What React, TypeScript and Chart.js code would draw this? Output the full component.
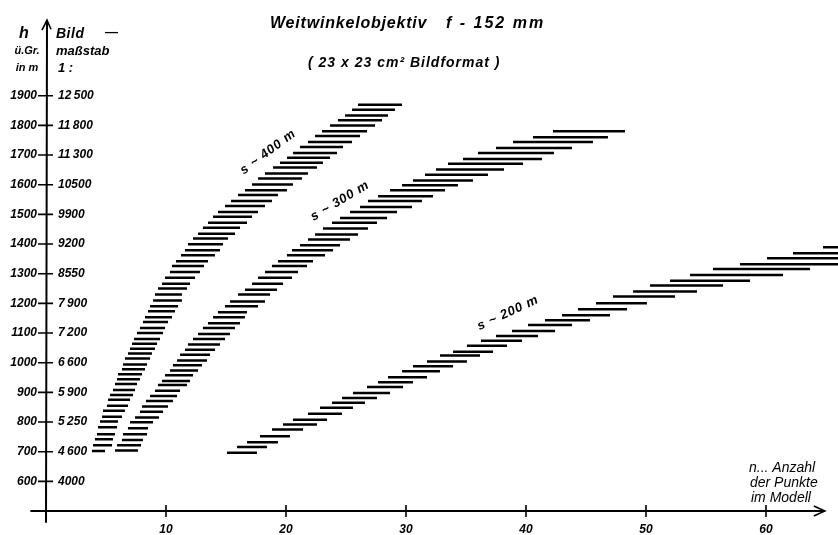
import React, { useEffect, useRef } from 'react';
import { Chart, registerables } from 'chart.js';

Chart.register(...registerables);

// ---- axis ticks ----
const hTicks = [600, 700, 800, 900, 1000, 1100, 1200, 1300, 1400, 1500, 1600, 1700, 1800, 1900];
const hTickLabels = ['600', '700', '800', '900', '1000', '1100', '1200', '1300', '1400', '1500', '1600', '1700', '1800', '1900'];
const scaleTickLabels = ['4000', '4\u2009600', '5\u2009250', '5\u2009900', '6\u2009600', '7\u2009200', '7\u2009900', '8550', '9200', '9900', '10500', '11\u2009300', '11\u2009800', '12\u2009500'];
const nTicks = [10, 20, 30, 40, 50, 60];
const nTickLabels = ['10', '20', '30', '40', '50', '60'];

// ---- band s ~ 400 m : flying height h and range of n for each dash ----
const band400H = [1870, 1853, 1833, 1817, 1800, 1780, 1764, 1744, 1727, 1707, 1691, 1674, 1658, 1638, 1621, 1601, 1581, 1565, 1545, 1528, 1508, 1492, 1472, 1455, 1435, 1419, 1399, 1379, 1362, 1342, 1326, 1306, 1286, 1266, 1250, 1230, 1210, 1190, 1173, 1153, 1137, 1117, 1100, 1080, 1064, 1047, 1031, 1014, 994, 978, 961, 944, 928, 908, 891, 875, 855, 838, 818, 802, 782, 759, 742, 722, 702];
const band400Start = [26.0, 25.5, 24.92, 24.33, 23.67, 23.0, 22.42, 21.83, 21.17, 20.58, 20.08, 19.5, 18.92, 18.25, 17.67, 17.17, 16.58, 16.0, 15.42, 14.92, 14.33, 13.92, 13.5, 13.08, 12.67, 12.25, 11.83, 11.58, 11.25, 10.83, 10.5, 10.33, 9.92, 9.67, 9.33, 9.08, 8.92, 8.67, 8.5, 8.25, 8.08, 7.83, 7.58, 7.33, 7.17, 7.0, 6.83, 6.58, 6.42, 6.33, 6.0, 5.92, 5.75, 5.58, 5.33, 5.17, 5.08, 4.75, 4.67, 4.5, 4.33, 4.25, 4.08, 3.92, 3.83];
const band400End = [29.67, 29.08, 28.5, 28.0, 27.42, 26.75, 26.17, 25.5, 24.75, 24.25, 23.67, 23.08, 22.58, 21.83, 21.33, 20.58, 20.08, 19.33, 18.83, 18.25, 17.67, 17.17, 16.75, 16.17, 15.75, 15.17, 14.75, 14.5, 14.08, 13.5, 13.17, 12.83, 12.42, 12.0, 11.75, 11.33, 11.33, 11.0, 10.75, 10.5, 10.17, 9.92, 9.75, 9.5, 9.25, 9.08, 8.83, 8.67, 8.42, 8.25, 8.0, 7.83, 7.58, 7.42, 7.25, 7.0, 6.83, 6.58, 6.33, 6.0, 5.92, 5.75, 5.58, 5.5, 4.92];

// ---- band s ~ 300 m ----
const band300H = [1780, 1760, 1744, 1724, 1707, 1687, 1671, 1651, 1634, 1614, 1598, 1581, 1561, 1545, 1525, 1508, 1488, 1472, 1452, 1432, 1415, 1396, 1379, 1362, 1342, 1326, 1306, 1286, 1266, 1246, 1230, 1206, 1190, 1170, 1153, 1133, 1117, 1097, 1080, 1061, 1044, 1027, 1007, 991, 974, 958, 938, 925, 905, 888, 871, 852, 835, 815, 799, 779, 759, 739, 722, 704];
const band300Start = [42.25, 40.58, 38.92, 37.5, 36.0, 34.75, 33.5, 32.5, 31.58, 30.58, 29.67, 28.67, 27.67, 26.83, 26.17, 25.33, 24.5, 23.83, 23.08, 22.42, 21.83, 21.17, 20.5, 20.08, 19.33, 18.83, 18.25, 17.67, 17.17, 16.58, 16.0, 15.33, 14.92, 14.33, 13.92, 13.5, 13.08, 12.67, 12.25, 11.83, 11.58, 11.17, 10.92, 10.58, 10.33, 9.92, 9.67, 9.33, 9.08, 8.67, 8.33, 8.0, 7.83, 7.42, 7.0, 6.83, 6.42, 6.33, 5.92, 5.75];
const band300End = [48.25, 46.83, 45.58, 43.83, 42.33, 41.33, 39.75, 38.17, 36.83, 35.58, 34.33, 33.25, 32.25, 31.33, 30.5, 29.25, 28.42, 27.58, 26.83, 26.0, 25.33, 24.5, 23.92, 23.25, 22.25, 21.75, 21.0, 20.5, 19.75, 19.25, 18.67, 18.25, 17.67, 16.75, 16.58, 16.17, 15.75, 15.33, 14.92, 14.5, 14.08, 13.67, 13.42, 13.0, 12.67, 12.25, 12.0, 11.75, 11.17, 10.92, 10.58, 10.17, 9.75, 9.42, 8.92, 8.5, 8.42, 8.08, 7.92, 7.67];

// ---- band s ~ 200 m ----
const band200H = [1389, 1369, 1352, 1332, 1316, 1296, 1276, 1260, 1240, 1223, 1200, 1180, 1160, 1143, 1127, 1107, 1090, 1074, 1057, 1037, 1024, 1004, 988, 971, 951, 934, 918, 898, 881, 865, 848, 828, 808, 792, 775, 752, 732, 716, 696];
const band200Start = [64.75, 62.25, 60.08, 57.83, 55.58, 53.67, 52.0, 50.33, 48.92, 47.25, 45.83, 44.33, 43.0, 41.58, 40.17, 38.83, 37.5, 36.25, 35.08, 33.92, 32.83, 31.75, 30.58, 29.67, 28.5, 27.67, 26.75, 25.58, 24.67, 23.83, 22.83, 21.83, 20.58, 19.75, 18.83, 17.83, 16.75, 15.92, 15.08];
const band200End = [72.5, 70.5, 68.5, 66.5, 63.67, 61.42, 58.67, 56.42, 54.25, 52.42, 50.08, 48.42, 47.0, 45.33, 43.83, 42.42, 41.0, 39.67, 38.42, 37.25, 36.17, 35.08, 33.92, 32.83, 31.75, 30.58, 29.75, 28.67, 27.58, 26.58, 25.58, 24.67, 23.42, 22.58, 21.42, 20.33, 19.33, 18.42, 17.58];

const bandLabels = ['s ~ 400 m', 's ~ 300 m', 's ~ 200 m'];

function dashPoints(h: number[], s: number[], e: number[]) {
  const pts: { x: number; y: number | null }[] = [];
  for (let i = 0; i < h.length; i++) {
    pts.push({ x: s[i], y: h[i] });
    pts.push({ x: e[i], y: h[i] });
    pts.push({ x: e[i], y: null });
  }
  return pts;
}

const FAM = '"Liberation Sans", Arial, sans-serif';

function txt(ctx: CanvasRenderingContext2D, s: string, x: number, y: number, font: string, align: CanvasTextAlign = 'left', angle = 0, spacing = '0px') {
  ctx.save();
  ctx.translate(x, y);
  ctx.rotate((angle * Math.PI) / 180);
  ctx.font = font;
  ctx.textAlign = align;
  ctx.textBaseline = 'middle';
  (ctx as any).letterSpacing = spacing;
  ctx.fillStyle = '#000';
  ctx.fillText(s, 0, 0);
  ctx.restore();
}

const annotate = {
  id: 'annotate',
  afterDraw(chart: any) {
    const ctx: CanvasRenderingContext2D = chart.ctx;
    const xs = chart.scales.x;
    const ys = chart.scales.y;
    const x0 = xs.getPixelForValue(0);
    const y0 = ys.getPixelForValue(500);
    ctx.save();
    ctx.strokeStyle = '#000';
    ctx.lineCap = 'butt';
    // axes
    ctx.lineWidth = 2;
    const yTop = ys.getPixelForValue(2158);
    const xRight = xs.getPixelForValue(64.9);
    ctx.beginPath();
    ctx.moveTo(x0, ys.getPixelForValue(460));
    ctx.lineTo(x0 + 1, yTop + 1);
    ctx.moveTo(xs.getPixelForValue(-1.3), y0);
    ctx.lineTo(xRight, y0);
    ctx.stroke();
    ctx.lineWidth = 1.6;
    ctx.beginPath();
    ctx.moveTo(x0 - 4, yTop + 11);
    ctx.lineTo(x0 + 1, yTop + 1);
    ctx.lineTo(x0 + 5, yTop + 10);
    ctx.moveTo(xRight - 11, y0 - 5);
    ctx.lineTo(xRight, y0);
    ctx.lineTo(xRight - 11, y0 + 5);
    ctx.stroke();
    // tick marks crossing the axes
    ctx.lineWidth = 1.6;
    ctx.beginPath();
    hTicks.forEach((h) => {
      const py = ys.getPixelForValue(h);
      ctx.moveTo(x0 - 8, py);
      ctx.lineTo(x0 + 7, py);
    });
    nTicks.forEach((n) => {
      const px = xs.getPixelForValue(n);
      ctx.moveTo(px, y0 - 6);
      ctx.lineTo(px, y0 + 6);
    });
    ctx.stroke();

    // titles
    const fTitle = `italic bold 16px ${FAM}`;
    txt(ctx, 'Weitwinkelobjektiv', 270, 24, fTitle, 'left', 0, '0.8px');
    txt(ctx, 'f - 152 mm', 446, 24, fTitle, 'left', 0, '2px');
    txt(ctx, '( 23 x 23 cm\u00B2 Bildformat )', 308, 63, `italic bold 14px ${FAM}`, 'left', 0, '1px');

    // y-axis headers
    txt(ctx, 'h', 24, 34, `italic bold 16px ${FAM}`, 'center');
    txt(ctx, '\u00FC.Gr.', 27, 51, `italic bold 11px ${FAM}`, 'center');
    txt(ctx, 'in m', 27, 68, `italic bold 11px ${FAM}`, 'center');
    txt(ctx, 'Bild', 56, 34, `italic bold 14px ${FAM}`, 'left', 0, '0.5px');
    txt(ctx, '\u2014', 105, 32, `bold 13px ${FAM}`, 'left');
    txt(ctx, 'ma\u00DFstab', 56, 51, `italic bold 13px ${FAM}`, 'left');
    txt(ctx, '1 :', 58, 68, `italic bold 13px ${FAM}`, 'left');

    // x-axis caption
    const fCap = `italic 14px ${FAM}`;
    txt(ctx, 'n... Anzahl', 749, 468, fCap, 'left');
    txt(ctx, 'der Punkte', 750, 483, fCap, 'left');
    txt(ctx, 'im Modell', 751, 498, fCap, 'left');

    // band labels
    const fS = `italic bold 13px ${FAM}`;
    txt(ctx, bandLabels[0], 268, 152, fS, 'center', -37, '0.8px');
    txt(ctx, bandLabels[1], 340, 201, fS, 'center', -31, '0.8px');
    txt(ctx, bandLabels[2], 508, 313, fS, 'center', -25, '0.8px');
    ctx.restore();
  },
};

export default function App() {
  const ref = useRef<HTMLCanvasElement | null>(null);
  useEffect(() => {
    if (!ref.current) return;
    const common = {
      borderColor: '#000',
      borderWidth: 2.5,
      pointRadius: 0,
      spanGaps: false,
      borderCapStyle: 'butt' as const,
      tension: 0,
      fill: false,
    };
    const tickFont = { family: FAM, size: 12, style: 'italic' as const, weight: 'bold' as const };
    const chart = new Chart(ref.current, {
      type: 'line',
      data: {
        datasets: [
          { label: bandLabels[0], data: dashPoints(band400H, band400Start, band400End), ...common },
          { label: bandLabels[1], data: dashPoints(band300H, band300Start, band300End), ...common },
          { label: bandLabels[2], data: dashPoints(band200H, band200Start, band200End), ...common },
        ] as any,
      },
      options: {
        animation: false,
        responsive: false,
        events: [],
        layout: { padding: { top: 11, left: 0, right: 0, bottom: 0 } },
        plugins: { legend: { display: false }, tooltip: { enabled: false }, title: { display: false } },
        scales: {
          x: {
            type: 'linear',
            position: 'bottom',
            min: 0,
            max: 66,
            afterFit: (s: any) => { s.height = 24; },
            grid: { display: false, drawTicks: false },
            border: { display: false },
            ticks: {
              stepSize: 10,
              autoSkip: false,
              maxRotation: 0,
              padding: 11,
              color: '#000',
              font: tickFont,
              callback: (v: any) => {
                const i = nTicks.indexOf(Number(v));
                return i >= 0 ? nTickLabels[i] : null;
              },
            },
          },
          y: {
            type: 'linear',
            position: 'left',
            weight: 1,
            min: 500,
            max: 2158,
            afterFit: (s: any) => { s.width = 46; },
            grid: { display: false, drawTicks: false },
            border: { display: false },
            ticks: {
              stepSize: 100,
              autoSkip: false,
              padding: 9,
              color: '#000',
              font: tickFont,
              callback: (v: any) => {
                const i = hTicks.indexOf(Number(v));
                return i >= 0 ? hTickLabels[i] : null;
              },
            },
          },
          y2: {
            type: 'linear',
            position: 'left',
            weight: 0,
            min: 500,
            max: 2158,
            afterFit: (s: any) => { s.width = 0; },
            grid: { display: false, drawTicks: false },
            border: { display: false },
            ticks: {
              stepSize: 100,
              autoSkip: false,
              mirror: true,
              padding: 12,
              color: '#000',
              font: tickFont,
              callback: (v: any) => {
                const i = hTicks.indexOf(Number(v));
                return i >= 0 ? scaleTickLabels[i] : null;
              },
            },
          },
        },
      } as any,
      plugins: [annotate],
    });
    return () => chart.destroy();
  }, []);
  return (
    <div style={{ position: 'absolute', left: 0, top: 0, width: 838, height: 535, background: '#fff' }}>
      <canvas ref={ref} width={838} height={535} style={{ display: 'block' }} />
    </div>
  );
}
